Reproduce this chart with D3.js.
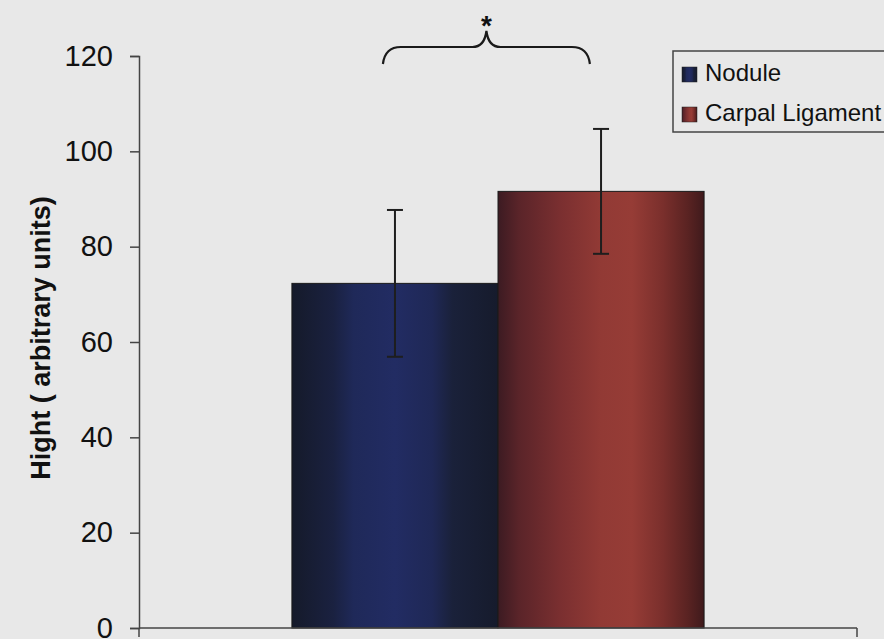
<!DOCTYPE html>
<html>
<head>
<meta charset="utf-8">
<script src="https://cdn.jsdelivr.net/npm/d3@7/dist/d3.min.js"></script>
<style>
  html, body { margin: 0; padding: 0; background: #e8e8e8; }
  svg { display: block; }
  text { font-family: "Liberation Sans", Arial, sans-serif; fill: #111; }
</style>
</head>
<body>
<svg id="chart" width="884" height="639"></svg>
<script>
// Series and axis data
const categories = ["Nodule", "Carpal Ligament"];
const values = [72.3, 91.6];
const errors = [15.4, 13.1];
const yTicks = [0, 20, 40, 60, 80, 100, 120];
const yTitle = "Hight ( arbitrary units)";
const sigMark = "*";

const svg = d3.select("#chart");
const W = 884, H = 639;
svg.append("rect").attr("width", W).attr("height", H).attr("fill", "#e8e8e8");

const plot = { left: 139, right: 857, top: 56, bottom: 628 };

const y = d3.scaleLinear().domain([0, 120]).range([plot.bottom, plot.top]);
const group = d3.scaleBand().domain(["all"]).range([plot.left, plot.right])
  .paddingInner(0).paddingOuter(0.371);
const x = d3.scaleBand().domain(categories).range([0, group.bandwidth()]).padding(0);

// Gradients giving the bars their cylindrical shading
const defs = svg.append("defs");
const gradStops = [
  [[0, "#151a2a"], [0.2, "#1a2140"], [0.3, "#1f2959"], [0.5, "#222c63"], [0.68, "#1f2856"], [0.78, "#1a213a"], [1, "#161b2c"]],
  [[0, "#3c1b22"], [0.1, "#5a2429"], [0.3, "#7a2f30"], [0.5, "#923a35"], [0.65, "#963c36"], [0.8, "#7a2f2c"], [0.92, "#5a2322"], [1, "#3f1a1c"]]
];
const colorIds = ["gradNodule", "gradCarpal"];
gradStops.forEach((stops, i) => {
  const g = defs.append("linearGradient").attr("id", colorIds[i])
    .attr("x1", "0").attr("x2", "1").attr("y1", "0").attr("y2", "0");
  stops.forEach(([o, c]) => g.append("stop").attr("offset", o).attr("stop-color", c));
});

const x0 = group("all");

// Bars
svg.append("g").selectAll("rect").data(categories).join("rect")
  .attr("x", d => x0 + x(d))
  .attr("y", (d, i) => y(values[i]))
  .attr("width", x.bandwidth())
  .attr("height", (d, i) => y(0) - y(values[i]))
  .attr("fill", (d, i) => `url(#${colorIds[i]})`)
  .attr("stroke", "#1a1a1a").attr("stroke-width", 1);

// Error bars
const eb = svg.append("g").attr("stroke", "#1e1e1e").attr("stroke-width", 2);
categories.forEach((c, i) => {
  const cx = x0 + x(c) + x.bandwidth() / 2;
  const hi = y(values[i] + errors[i]), lo = y(values[i] - errors[i]);
  eb.append("line").attr("x1", cx).attr("x2", cx).attr("y1", hi).attr("y2", lo);
  eb.append("line").attr("x1", cx - 8).attr("x2", cx + 8).attr("y1", hi).attr("y2", hi);
  eb.append("line").attr("x1", cx - 8).attr("x2", cx + 8).attr("y1", lo).attr("y2", lo);
});

// Y axis
const yAxis = svg.append("g").attr("transform", `translate(${plot.left},0)`)
  .call(d3.axisLeft(y).tickValues(yTicks).tickSize(9).tickPadding(17));
yAxis.select(".domain").attr("stroke", "#444").attr("stroke-width", 1.5);
yAxis.selectAll(".tick line").attr("stroke", "#444").attr("stroke-width", 1.5);
yAxis.selectAll(".tick text").attr("font-size", 29)
  .attr("font-family", "'Liberation Sans', Arial, sans-serif").attr("fill", "#111");

// X axis line with end ticks
const xg = svg.append("g").attr("stroke", "#444").attr("stroke-width", 1.5);
xg.append("line").attr("x1", plot.left).attr("x2", plot.right).attr("y1", y(0)).attr("y2", y(0));
[plot.left, plot.right].forEach(px =>
  xg.append("line").attr("x1", px).attr("x2", px).attr("y1", y(0)).attr("y2", y(0) + 9));

// Y axis title
svg.append("text")
  .attr("transform", "translate(50, 338) rotate(-90)")
  .attr("text-anchor", "middle")
  .attr("font-size", 27).attr("font-weight", "bold")
  .text(yTitle);

// Significance bracket
const bx1 = x0 + 91, bx2 = x0 + 298, bmid = (bx1 + bx2) / 2;
const by0 = 64, by1 = 47, byTop = 31;
svg.append("path")
  .attr("d", `M${bx1},${by0} Q${bx1 + 2},${by1} ${bx1 + 18},${by1} L${bmid - 14},${by1} Q${bmid - 2},${by1} ${bmid},${byTop}` +
             ` Q${bmid + 2},${by1} ${bmid + 14},${by1} L${bx2 - 18},${by1} Q${bx2 - 2},${by1} ${bx2},${by0}`)
  .attr("fill", "none").attr("stroke", "#1a1a1a").attr("stroke-width", 2.2);
svg.append("text").attr("x", bmid).attr("y", 35).attr("text-anchor", "middle")
  .attr("font-size", 28).attr("font-weight", "bold").text(sigMark);

// Legend
const lg = svg.append("g");
lg.append("rect").attr("x", 673).attr("y", 51).attr("width", 240).attr("height", 81)
  .attr("fill", "#e8e8e8").attr("stroke", "#444").attr("stroke-width", 1.5);
categories.forEach((c, i) => {
  const ly = 67 + i * 40;
  lg.append("rect").attr("x", 682).attr("y", ly).attr("width", 15).attr("height", 15)
    .attr("fill", `url(#${colorIds[i]})`).attr("stroke", "#222").attr("stroke-width", 0.5);
  lg.append("text").attr("x", 705).attr("y", ly + 14).attr("font-size", 24).text(c);
});
</script>
</body>
</html>
